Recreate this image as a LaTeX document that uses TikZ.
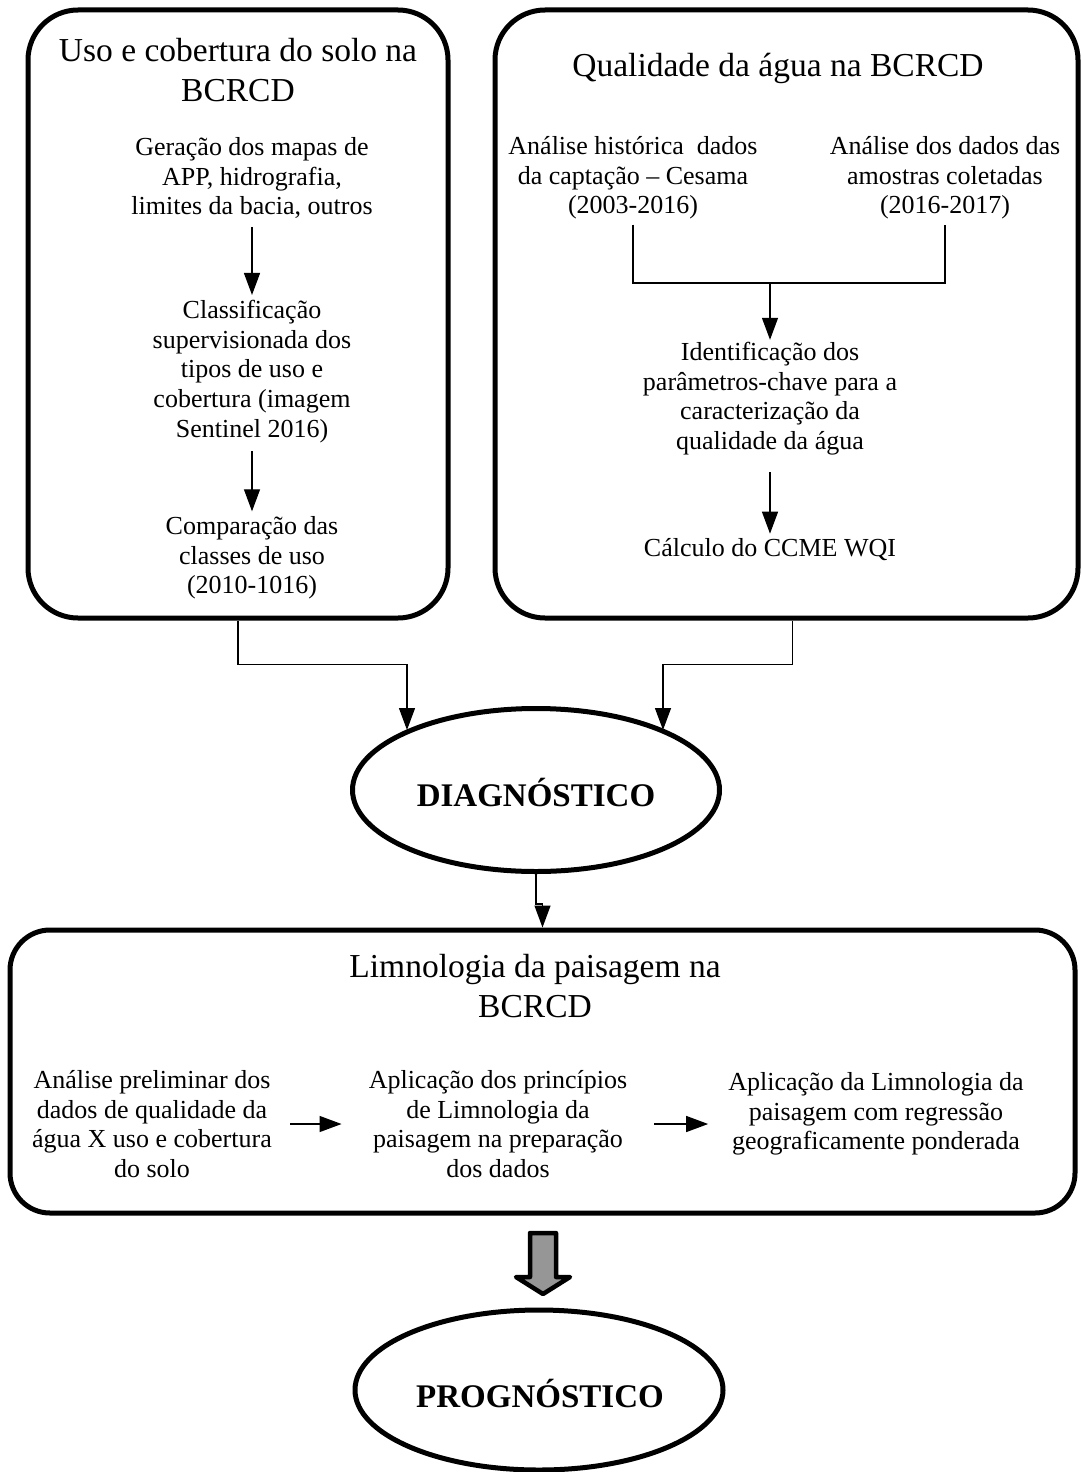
\documentclass[tikz,border=0pt]{standalone}
\usepackage{fontspec}
\setmainfont{Liberation Serif}
\usetikzlibrary{arrows.meta,shapes.geometric}
\definecolor{arrgray}{RGB}{150,150,150}
\begin{document}
\begin{tikzpicture}[x=1pt,y=-1pt,
  bigbox/.style={draw, line width=5pt, rounded corners=50pt, inner sep=0pt},
  txt/.style={align=center, font=\fontsize{26}{29.7}\selectfont, inner sep=5pt},
  ttl/.style={align=center, font=\fontsize{33.5}{40}\selectfont, inner sep=0pt},
  lbl/.style={font=\fontsize{33}{40}\selectfont\bfseries},
  con/.style={line width=1.3pt, draw=black},
  arr/.style={con, -{Triangle[length=22pt,width=16pt]}},
  oval/.style={ellipse, draw, line width=5pt, inner sep=0pt}]
\useasboundingbox (0,0) rectangle (1081,1472);

% boxes
\node[bigbox, minimum width=420pt, minimum height=608pt] (box1) at (238,314) {};
\node[bigbox, minimum width=583pt, minimum height=608pt] (box2) at (786.5,314) {};
\node[bigbox, rounded corners=40pt, minimum width=1065pt, minimum height=283pt] (lim) at (542.5,1071.5) {};

% left box texts
\node[ttl] (t1) at (238,70) {Uso e cobertura do solo na\\BCRCD};
\node[txt] (gen) at (252,178) {Geração dos mapas de\\APP, hidrografia,\\limites da bacia, outros};
\node[txt] (cls) at (252,371.5) {Classificação\\supervisionada dos\\tipos de uso e\\cobertura (imagem\\Sentinel 2016)};
\node[txt] (cmp) at (252,558) {Comparação das\\classes de uso\\(2010-1016)};

% right box texts
\node[ttl] (t2) at (778,68) {Qualidade da água na BCRCD};
\node[txt] (hist) at (633,178) {Análise histórica\ \ dados\\da captação – Cesama\\(2003-2016)};
\node[txt] (amo) at (945,178) {Análise dos dados das\\amostras coletadas\\(2016-2017)};
\node[txt] (ident) at (770,398.5) {Identificação dos\\parâmetros-chave para a\\caracterização da\\qualidade da água};
\node[txt] (calc) at (770,550) {Cálculo do CCME WQI};

% ellipses
\node[oval, minimum width=367pt, minimum height=163pt] (diag) at (536,790) {};
\node[lbl] (diagt) at (536,792) {DIAGNÓSTICO};
\node[oval, minimum width=368pt, minimum height=160pt] (prog) at (539,1390) {};
\node[lbl] (progt) at (540,1393) {PROGNÓSTICO};

% limnologia texts
\node[ttl] (t3) at (535,986.5) {Limnologia da paisagem na\\BCRCD};
\node[txt] (an1) at (152,1124) {Análise preliminar dos\\dados de qualidade da\\água X uso e cobertura\\do solo};
\node[txt] (an2) at (498,1124) {Aplicação dos princípios\\de Limnologia da\\paisagem na preparação\\dos dados};
\node[txt] (an3) at (876,1114) {Aplicação da Limnologia da\\paisagem com regressão\\geograficamente ponderada};

% connectors inside left box
\draw[arr, shorten <=3pt] (gen.south) -- (cls.north);
\draw[arr, shorten <=3pt] (cls.south) -- (cmp.north);

% connectors inside right box
\coordinate (j) at (770,283);
\draw[con] (hist.south) |- (j) -| (amo.south);
\draw[arr] (j) -- ([yshift=-3pt]ident.north);
\draw[arr, shorten <=12pt] (ident.south) -- (calc.north);

% to diagnostico
\coordinate (e1) at (407,730);
\coordinate (e2) at (663,730);
\draw[arr] (box1.south) -- ++(0,44) -| (e1);
\draw[arr] ([xshift=6pt]box2.south) -- ++(0,44) -| (e2);

% diagnostico to limnologia
\draw[arr] (diag.south) -- ++(0,30) -| (lim.north);

% horizontal arrows
\draw[arr, shorten <=13pt, shorten >=22pt] (an1.east) -- (an2.west);
\draw[arr, shorten <=22pt, shorten >=15pt] (an2.east) -- (an2.east -| an3.west);

% big gray arrow
\draw[line width=4.5pt, line join=round, fill=arrgray]
  (530,1233) -- (556,1233) -- (556,1277) -- (570,1277) -- (543,1294)
  -- (516,1277) -- (530,1277) -- cycle;
\end{tikzpicture}
\end{document}
